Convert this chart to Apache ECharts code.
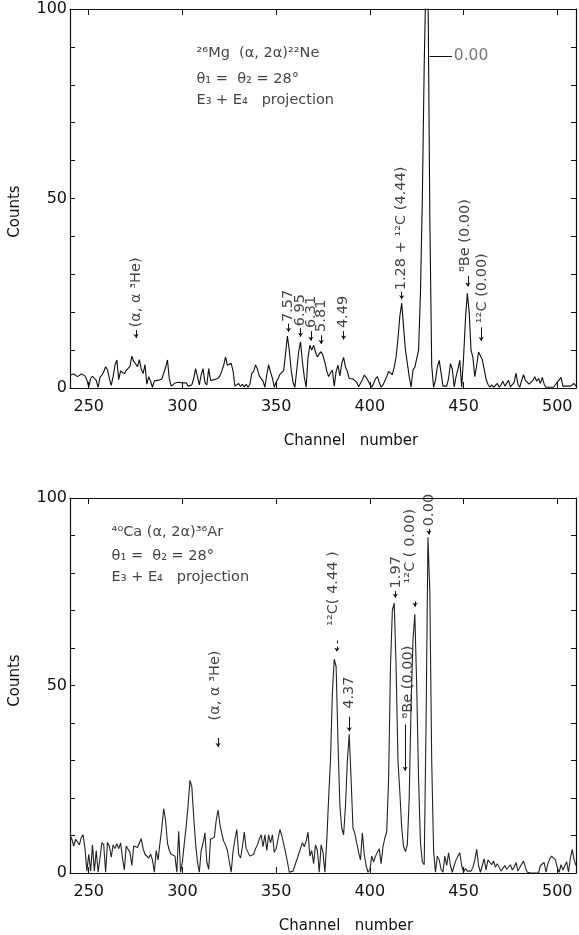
<!DOCTYPE html>
<html><head><meta charset="utf-8">
<script src="https://cdn.jsdelivr.net/npm/echarts@6/dist/echarts.min.js"></script>
<style>html,body{margin:0;padding:0;background:#fff}#c{width:579px;height:935px}</style>
</head><body><div id="c"></div>
<script>
// ---------------- data ----------------
const channelStart = 240;          // first channel of both spectra
const xTickLabels = [250, 300, 350, 400, 450, 500];
const yTickLabels = [0, 50, 100];

// 26Mg(a,2a)22Ne  counts per channel, channel 240 .. 510
const topCounts = [
  3.4, 3.0, 3.7, 3.2, 3.0, 3.5, 3.7, 3.2, 3.2, 2.1,
  0.3, 2.5, 3.1, 3.6, 2.0, 0.2, 2.8, 3.4, 4.3, 5.6,
  4.8, 2.5, 0.7, 3.0, 6.0, 7.4, 2.2, 4.5, 4.0, 3.8,
  4.6, 4.2, 5.7, 8.4, 7.0, 6.4, 5.6, 7.5, 5.0, 3.8,
  6.2, 1.0, 3.0, 1.8, 0.2, 1.9, 2.2, 2.0, 2.0, 2.4,
  2.3, 5.4, 7.4, 2.4, 0.5, 0.8, 1.3, 1.1, 1.5, 1.6,
  1.3, 1.0, 1.4, 0.5, 0.2, 0.8, 2.5, 5.1, 3.0, 0.8,
  3.5, 5.1, 1.5, 0.8, 5.1, 2.0, 1.8, 2.2, 2.0, 2.6,
  3.2, 4.5, 6.0, 8.2, 6.0, 5.5, 6.5, 4.5, 0.5, 0.9,
  1.2, 0.4, 1.0, 0.3, 1.0, 0.2, 1.0, 3.8, 4.4, 6.1,
  5.0, 3.2, 2.8, 1.8, 0.2, 3.5, 6.1, 4.2, 2.6, 0.2,
  1.6, 2.4, 3.6, 3.8, 4.6, 9.0, 13.7, 10.0, 4.8, 1.5,
  0.2, 4.8, 9.5, 12.2, 7.0, 3.0, 0.2, 8.0, 11.3, 10.0,
  11.3, 9.5, 8.2, 9.0, 9.6, 8.5, 6.8, 4.5, 3.0, 4.0,
  4.7, 0.5, 4.4, 6.0, 3.2, 6.5, 8.1, 5.5, 4.4, 2.5,
  2.0, 2.4, 2.6, 1.5, 0.3, 0.5, 2.2, 3.4, 2.8, 2.0,
  1.0, 0.2, 1.2, 2.4, 3.0, 1.5, 0.2, 0.8, 1.2, 3.0,
  4.4, 4.0, 3.5, 5.5, 8.2, 13.0, 19.0, 22.4, 16.0, 10.0,
  6.5, 3.0, 0.2, 4.7, 5.5, 6.0, 10.0, 25.0, 50.0, 85.0,
  110.0, 108.0, 45.0, 6.0, 0.2, 2.0, 5.5, 7.3, 4.0, 0.5,
  0.2, 0.5, 2.5, 6.4, 5.0, 0.3, 3.0, 5.0, 7.3, 0.3,
  8.0, 18.0, 25.0, 20.0, 10.0, 8.0, 3.0, 6.0, 9.5, 10.0,
  7.5, 5.0, 2.3, 1.0, 0.2, 0.8, 0.2, 0.5, 1.2, 0.2,
  0.8, 1.8, 0.5, 0.2, 2.0, 0.3, 0.5, 1.5, 3.9, 1.0,
  0.2, 2.0, 3.5, 2.0, 1.5, 1.0, 1.2, 2.0, 3.0, 1.8,
  2.5, 1.2, 2.8, 1.0, 0.2, 0.3, 0.2, 0.5, 0.2, 0.5,
  1.5, 2.0, 2.8, 0.5, 0.2, 0.5, 0.3, 0.5, 1.0, 1.2,
  0.5
];

// 40Ca(a,2a)36Ar  counts per channel, channel 240 .. 510
const bottomCounts = [
  10.2, 9.0, 7.2, 9.0, 8.5, 7.5, 9.5, 10.2, 6.5, 0.5,
  5.0, 0.5, 7.5, 0.5, 6.0, 0.2, 4.0, 8.1, 7.5, 0.2,
  8.1, 7.2, 4.2, 7.5, 6.5, 7.8, 6.5, 8.0, 4.0, 0.8,
  7.2, 7.5, 5.5, 2.0, 7.2, 7.5, 6.8, 7.0, 9.2, 6.5,
  5.0, 4.5, 4.0, 5.0, 3.5, 0.2, 6.0, 3.5, 8.0, 12.0,
  17.2, 14.0, 8.0, 6.0, 5.0, 5.5, 4.5, 0.2, 11.1, 0.2,
  3.0, 8.0, 12.5, 18.0, 24.7, 23.0, 15.0, 8.0, 3.0, 0.2,
  6.0, 8.0, 10.7, 3.0, 1.0, 9.0, 8.5, 9.5, 14.0, 16.8,
  13.0, 10.5, 8.5, 7.5, 6.0, 3.0, 0.2, 5.8, 9.0, 11.6,
  5.0, 4.0, 7.0, 10.9, 6.5, 5.5, 4.5, 4.8, 5.0, 6.5,
  7.5, 9.0, 10.2, 7.0, 10.2, 6.0, 10.2, 8.0, 10.2, 5.5,
  6.5, 9.0, 11.6, 10.0, 7.8, 5.5, 3.0, 0.2, 0.2, 0.5,
  2.0, 3.5, 5.0, 6.5, 8.1, 7.0, 8.5, 10.9, 4.5, 6.0,
  2.5, 7.5, 6.0, 0.2, 7.5, 5.5, 0.2, 8.5, 19.9, 30.0,
  48.0, 57.0, 55.0, 35.0, 18.0, 12.0, 10.2, 18.0, 30.0, 37.0,
  25.0, 12.0, 10.5, 8.0, 5.5, 3.5, 10.7, 5.0, 2.0, 0.2,
  0.8, 4.5, 3.0, 4.5, 5.0, 6.5, 2.5, 7.0, 9.3, 11.0,
  25.0, 55.0, 70.0, 72.0, 55.0, 30.0, 21.6, 12.0, 7.0, 5.7,
  7.6, 20.0, 45.0, 62.0, 69.0, 50.0, 25.0, 8.0, 3.0, 2.2,
  40.0, 89.5, 75.0, 30.0, 6.0, 0.2, 4.5, 3.5, 1.0, 0.2,
  4.5, 2.0, 5.4, 2.0, 0.2, 2.0, 3.5, 4.5, 5.4, 2.0,
  0.2, 1.2, 0.5, 0.8, 0.5, 1.5, 3.5, 6.3, 2.0, 0.2,
  2.0, 3.8, 0.8, 3.5, 3.0, 2.2, 3.2, 1.5, 2.5, 2.8,
  0.5, 0.2, 2.0, 1.0, 1.5, 2.2, 0.8, 1.5, 2.8, 0.5,
  1.5, 2.0, 3.2, 1.5, 0.2, 0.0, 0.0, 0.0, 0.0, 0.0,
  0.0, 2.0, 2.5, 2.8, 0.2, 2.5, 3.8, 4.5, 4.0, 3.5,
  1.5, 0.2, 2.2, 0.8, 1.0, 3.0, 0.2, 4.0, 6.3, 3.5,
  2.0
];

// ---------------- annotations (data coordinates: channel, counts) ----------------
const topTitleLines = ['²⁶Mg  (α, 2α)²²Ne', 'θ₁ =  θ₂ = 28°', 'E₃ + E₄   projection'];
const topTitleAt = [[307.5, 88.2], [307.5, 81.6], [307.5, 75.8]];
const bottomTitleLines = ['⁴⁰Ca (α, 2α)³⁶Ar', 'θ₁ =  θ₂ = 28°', 'E₃ + E₄   projection'];
const bottomTitleAt = [[262.2, 90.8], [262.2, 84.5], [262.2, 79.0]];

// t: text, x/y: start of rotated text, ax: arrow channel, a: arrow from/to counts
const topNotes = [
  { t: '(α, α ³He)', x: 275.3, y: 16.0, ax: 275.3, a: [15.3, 13.2] },
  { t: '7.57', x: 356.2, y: 17.4, ax: 356.6, a: [17.0, 14.8] },
  { t: '6.95', x: 362.8, y: 16.3, ax: 363.0, a: [15.8, 13.5] },
  { t: '6.31', x: 368.5, y: 15.8, ax: 368.5, a: [15.0, 12.5] },
  { t: '5.81', x: 374.0, y: 14.8, ax: 374.0, a: [13.9, 11.6] },
  { t: '4.49', x: 386.0, y: 15.8, ax: 386.0, a: [15.0, 12.8] },
  { t: '1.28 + ¹²C (4.44)', x: 417.0, y: 25.8, ax: 417.0, a: [25.4, 23.4] },
  { t: '⁸Be (0.00)', x: 451.0, y: 30.6, ax: 452.3, a: [29.6, 26.8] },
  { t: '¹²C (0.00)', x: 460.0, y: 17.1, ax: 459.4, a: [16.0, 12.4] }
];
const topPeakLabel = { t: '0.00', x: 444.8, y: 87.6, from: 431.8, to: 443.8 };

const bottomNotes = [
  { t: '(α, α ³He)', x: 317.5, y: 40.7, ax: 319.0, a: [36.0, 33.6] },
  { t: '¹²C( 4.44 )', x: 380.5, y: 65.9, ax: 382.4, a: [62.0, 59.0], dashed: true },
  { t: '4.37', x: 388.8, y: 43.8, ax: 389.0, a: [41.7, 37.8] },
  { t: '1.97', x: 414.0, y: 75.9, ax: 413.6, a: [75.2, 73.4] },
  { t: '¹²C ( 0.00)', x: 421.4, y: 77.2, ax: 424.1, a: [72.4, 71.0] },
  { t: '⁸Be (0.00)', x: 420.4, y: 41.2, ax: 418.8, a: [39.6, 27.3] },
  { t: '0.00', x: 431.5, y: 92.5, ax: 431.5, a: [91.8, 90.3] }
];

// ---------------- chart ----------------
const FONT = 'DejaVu Sans';
const INK = '#111';
const toPairs = arr => arr.map((v, i) => [channelStart + i, v]);

const grids = [
  { left: 65, top: 9, width: 512, height: 379 },
  { left: 65, top: 498, width: 512, height: 381 }
];

function xAxes(g, namePad) {
  const line = { show: true, onZero: false, lineStyle: { color: INK, width: 1.2 } };
  const tick = { show: true, inside: true, length: 6, lineStyle: { color: INK, width: 1 } };
  return [
    { type: 'value', gridIndex: g, position: 'bottom', min: 240, max: 510, splitNumber: 5,
      axisLine: line, axisTick: tick, splitLine: { show: false },
      axisLabel: { show: true, margin: 11, color: INK, fontSize: 16, fontFamily: FONT,
        formatter: v => xTickLabels.indexOf(v) >= 0 ? String(v) : '' },
      name: 'Channel   number', nameLocation: 'middle', nameGap: 46,
      nameTextStyle: { color: INK, fontSize: 15, fontFamily: FONT, padding: namePad } },
    { type: 'value', gridIndex: g, position: 'top', min: 240, max: 510, splitNumber: 5,
      axisLine: line, axisTick: tick, splitLine: { show: false }, axisLabel: { show: false } }
  ];
}
function yAxes(g, namePad) {
  const line = { show: true, onZero: false, lineStyle: { color: INK, width: 1.2 } };
  const tick = { show: true, inside: true, length: 5, lineStyle: { color: INK, width: 1 } };
  return [
    { type: 'value', gridIndex: g, position: 'left', min: 0, max: 100, interval: 10,
      axisLine: line, axisTick: tick, splitLine: { show: false },
      axisLabel: { show: true, margin: 3, color: INK, fontSize: 16, fontFamily: FONT,
        formatter: v => yTickLabels.indexOf(v) >= 0 ? String(v) : '' },
      name: 'Counts', nameLocation: 'middle', nameGap: 47,
      nameTextStyle: { color: INK, fontSize: 15, fontFamily: FONT, padding: namePad } },
    { type: 'value', gridIndex: g, position: 'right', min: 0, max: 100, interval: 10,
      axisLine: line, axisTick: tick, splitLine: { show: false }, axisLabel: { show: false } }
  ];
}

function textItem(text, at, rotate, size, color) {
  return {
    name: text, value: at,
    label: { show: true, formatter: text, rotate: rotate, position: 'inside',
      align: 'left', verticalAlign: 'middle', fontSize: size, color: color, fontFamily: FONT }
  };
}

function annotationSeries(xi, yi, titles, titleAt, notes, extraItems, extraLines) {
  const items = titles.map((t, i) => textItem(t, titleAt[i], 0, 14.5, INK))
    .concat(notes.map(n => textItem(n.t, [n.x, n.y], 90, 14.5, INK)))
    .concat(extraItems);
  const lines = notes.map(n => [
    { coord: [n.ax, n.a[0]], lineStyle: { type: n.dashed ? [3, 3] : 'solid' } },
    { coord: [n.ax, n.a[1]] }
  ]).concat(extraLines);
  return {
    type: 'scatter', xAxisIndex: xi, yAxisIndex: yi, symbolSize: 1, silent: true,
    itemStyle: { color: 'rgba(0,0,0,0)' }, data: items, z: 5,
    markLine: { silent: true, animation: false, symbol: ['none', 'arrow'], symbolSize: 4,
      label: { show: false }, lineStyle: { color: INK, width: 1, type: 'solid' }, data: lines }
  };
}

const topExtraItems = [textItem(topPeakLabel.t, [topPeakLabel.x, topPeakLabel.y], 0, 15.5, '#555')];
const topExtraLines = [[
  { coord: [topPeakLabel.from, topPeakLabel.y], symbol: 'none' },
  { coord: [topPeakLabel.to, topPeakLabel.y], symbol: 'none' }
]];

const option = {
  animation: false,
  backgroundColor: '#fff',
  grid: grids,
  xAxis: xAxes(0, [0, 0, 0, 56]).concat(xAxes(1, [0, 0, 0, 46])),
  yAxis: yAxes(0, [0, 26, 0, 0]).concat(yAxes(1, [0, 0, 0, 10])),
  series: [
    { type: 'line', xAxisIndex: 0, yAxisIndex: 0, data: toPairs(topCounts), showSymbol: false,
      symbol: 'none', clip: true, lineStyle: { color: '#0d0d0d', width: 1.1 } },
    { type: 'line', xAxisIndex: 2, yAxisIndex: 2, data: toPairs(bottomCounts), showSymbol: false,
      symbol: 'none', clip: true, lineStyle: { color: '#222', width: 1.1 } },
    annotationSeries(0, 0, topTitleLines, topTitleAt, topNotes, topExtraItems, topExtraLines),
    annotationSeries(2, 2, bottomTitleLines, bottomTitleAt, bottomNotes, [], [])
  ]
};

const chart = echarts.init(document.getElementById('c'), null, { renderer: 'canvas' });
chart.setOption(option);
</script>
</body></html>
